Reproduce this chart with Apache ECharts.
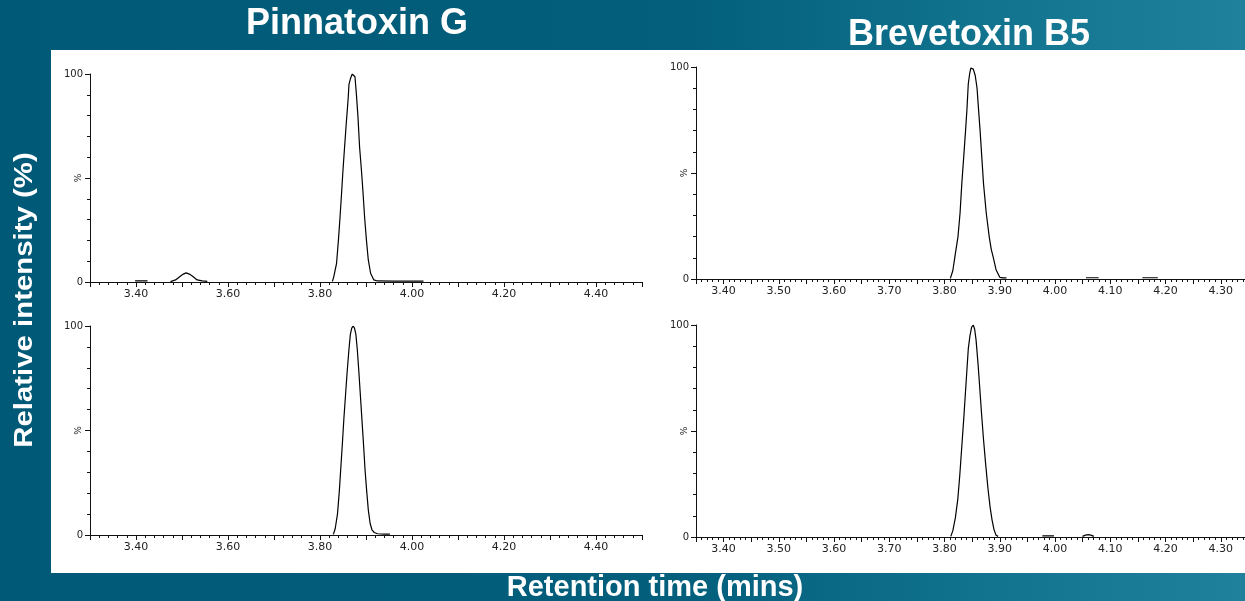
<!DOCTYPE html>
<html>
<head>
<meta charset="utf-8">
<script src="https://cdn.jsdelivr.net/npm/echarts@6/dist/echarts.min.js"></script>
<style>
  html, body { margin: 0; padding: 0; overflow: hidden; }
  #chart { width: 1245px; height: 601px; }
</style>
</head>
<body>
<div id="chart"></div>
<script>
// Extracted ion chromatograms: retention time (min) vs relative intensity (%).
// A null intensity breaks the trace between separate segments.

// Pinnatoxin G, upper trace
const pinTopTime = [3.398, 3.425, 3.45,
  3.475, 3.486, 3.497, 3.503, 3.509, 3.516, 3.523, 3.533, 3.544, 3.555, 3.60,
  3.827, 3.830, 3.836, 3.840, 3.8435, 3.847, 3.850, 3.8535, 3.857, 3.861, 3.863, 3.8665, 3.870,
  3.873, 3.876, 3.879, 3.8825, 3.886, 3.890, 3.8935, 3.897, 3.901, 3.905, 3.910, 3.917, 3.925,
  3.960, 4.000, 4.025];
const pinTopIntensity = [0.5, 0.5, null,
  0.2, 1.0, 2.9, 3.8, 4.4, 3.8, 2.8, 1.0, 0.5, 0.3, null,
  0.3, 2.6, 9, 20, 31, 43, 54, 65, 76, 87.5, 95, 98, 100,
  99.5, 98.7, 90.7, 79.5, 65, 54, 43, 31, 20, 10.6, 4.2, 1.0, 0.5,
  0.4, 0.4, 0.4];

// Pinnatoxin G, lower trace
const pinBottomTime = [3.829, 3.833, 3.838, 3.842, 3.8455, 3.849, 3.852, 3.8555, 3.859, 3.863, 3.866, 3.869, 3.872,
  3.875, 3.878, 3.881, 3.8845, 3.888, 3.8915, 3.895, 3.898, 3.9015, 3.905, 3.909, 3.913, 3.918, 3.925, 3.940, 3.952];
const pinBottomIntensity = [0.3, 3, 10, 21, 33, 45, 56, 67, 78, 89, 96, 99, 100,
  99, 96, 89, 78, 66, 54, 42, 31, 21, 12, 5.5, 2.5, 1.2, 0.6, 0.4, 0.4];

// Brevetoxin B5, upper trace
const brevTopTime = [3.8105, 3.815, 3.8188, 3.8243, 3.828, 3.8312, 3.8345, 3.838, 3.8405, 3.8429, 3.8455, 3.8475, 3.8498,
  3.852, 3.8555, 3.8588, 3.8615, 3.8643, 3.8675, 3.8705, 3.8755, 3.8808, 3.8845, 3.8877, 3.8932, 3.900, 3.906, 3.912, 3.98,
  4.056, 4.079, 4.12,
  4.158, 4.186];
const brevTopIntensity = [0.3, 4, 10.7, 20, 31, 45, 57, 70, 80, 92, 97, 99.5, 100,
  99, 96, 90, 80, 70, 57, 45, 31, 20, 14, 10.7, 4.4, 0.8, 0.5, 0.5, null,
  0.6, 0.6, null,
  0.6, 0.6];

// Brevetoxin B5, lower trace
const brevBottomTime = [3.8113, 3.815, 3.8195, 3.824, 3.8275, 3.831, 3.8345, 3.8375, 3.8405, 3.843, 3.846, 3.849, 3.852,
  3.8545, 3.857, 3.8605, 3.8635, 3.867, 3.8705, 3.8745, 3.8785, 3.8825, 3.886, 3.8895, 3.8932, 3.897, 3.94,
  3.977, 3.998, 4.02,
  4.0497, 4.055, 4.060, 4.065, 4.0703];
const brevBottomIntensity = [0.3, 3, 9, 18, 29, 42, 55, 67, 79, 89, 95, 99, 100,
  98, 93, 82, 71, 58, 46, 34, 23, 14, 8, 3.5, 0.8, 0.3, null,
  0.5, 0.5, null,
  0.3, 0.9, 1.1, 0.9, 0.3];

// Axis ranges and label text
const pinRange = [3.30, 4.50];
const brevRange = [3.35, 4.40];
const yTickLabels = { 0: '0', 100: '100' };
const panelTitles = ['Pinnatoxin G', 'Brevetoxin B5'];
const xTitle = 'Retention time (mins)';
const yTitle = 'Relative intensity (%)';

function pairs(times, values) {
  return times.map((t, i) => [t, values[i] === null ? '-' : values[i]]);
}

const tickFont = 'DejaVu Sans';
const axisColor = '#111';

function xAxisFor(gridIndex, range, interval, labelStep) {
  return {
    type: 'value', gridIndex, min: range[0], max: range[1], interval,
    axisLine: { show: true, onZero: false, lineStyle: { color: axisColor, width: 1 } },
    axisTick: { show: true, inside: false, length: 5, lineStyle: { color: axisColor } },
    minorTick: { show: true, splitNumber: 5, length: 3, lineStyle: { color: axisColor } },
    splitLine: { show: false }, minorSplitLine: { show: false },
    axisLabel: {
      margin: 7, color: '#222', fontFamily: tickFont, fontSize: 11,
      showMinLabel: true, showMaxLabel: true, hideOverlap: false,
      formatter: v => (Math.round(v * 100) % labelStep === 0 ? v.toFixed(2) : '')
    }
  };
}

function yAxisFor(gridIndex) {
  return {
    type: 'value', gridIndex, min: 0, max: 100, interval: 50,
    name: '%', nameLocation: 'middle', nameRotate: 90, nameGap: 7, nameMoveOverlap: false,
    nameTextStyle: { color: '#222', fontFamily: tickFont, fontSize: 9 },
    axisLine: { show: true, lineStyle: { color: axisColor, width: 1 } },
    axisTick: { show: true, inside: false, length: 5, lineStyle: { color: axisColor } },
    minorTick: { show: true, splitNumber: 5, length: 3, lineStyle: { color: axisColor } },
    splitLine: { show: false }, minorSplitLine: { show: false },
    axisLabel: {
      margin: 7, color: '#222', fontFamily: tickFont, fontSize: 10,
      formatter: v => (yTickLabels[v] !== undefined ? yTickLabels[v] : '')
    }
  };
}

function trace(idx, data) {
  return {
    type: 'line', xAxisIndex: idx, yAxisIndex: idx, data,
    symbol: 'none', connectNulls: false, silent: true,
    lineStyle: { color: '#000', width: 1.2 }
  };
}

function gridAt(left, top, width, height) {
  return { left, top, width, height, containLabel: false, outerBoundsMode: 'none' };
}

const chart = echarts.init(document.getElementById('chart'), null, { renderer: 'canvas' });

chart.setOption({
  animation: false,
  backgroundColor: 'transparent',
  graphic: [
    {
      type: 'rect', z: -20, silent: true,
      shape: { x: 0, y: 0, width: 1245, height: 601 },
      style: {
        fill: new echarts.graphic.LinearGradient(0, 0, 1, 0, [
          { offset: 0, color: '#005977' },
          { offset: 0.55, color: '#035f7c' },
          { offset: 0.8, color: '#12748f' },
          { offset: 1, color: '#1f819c' }
        ])
      }
    },
    {
      type: 'rect', z: -10, silent: true,
      shape: { x: 51, y: 50, width: 1194, height: 523 },
      style: { fill: '#ffffff' }
    },
    {
      type: 'text', x: 357, y: 24, z: 10,
      style: { text: panelTitles[0], font: 'bold 36px "Liberation Sans", Arial, sans-serif',
        fill: '#ffffff', textAlign: 'center', textVerticalAlign: 'middle' }
    },
    {
      type: 'text', x: 969, y: 35, z: 10,
      style: { text: panelTitles[1], font: 'bold 36px "Liberation Sans", Arial, sans-serif',
        fill: '#ffffff', textAlign: 'center', textVerticalAlign: 'middle' }
    },
    {
      type: 'text', x: 655, y: 588, z: 10,
      style: { text: xTitle, font: 'bold 29px "Liberation Sans", Arial, sans-serif',
        fill: '#ffffff', textAlign: 'center', textVerticalAlign: 'middle' }
    },
    {
      type: 'text', x: 25, y: 300, z: 10, rotation: Math.PI / 2, scaleX: 1.13,
      style: { text: yTitle, font: 'bold 26px "Liberation Sans", Arial, sans-serif',
        fill: '#ffffff', textAlign: 'center', textVerticalAlign: 'middle' }
    }
  ],
  grid: [
    gridAt(90, 74, 552, 208),
    gridAt(696, 67, 580, 212),
    gridAt(90, 326, 552, 209),
    gridAt(696, 325, 580, 212)
  ],
  xAxis: [
    xAxisFor(0, pinRange, 0.1, 20),
    xAxisFor(1, brevRange, 0.05, 10),
    xAxisFor(2, pinRange, 0.1, 20),
    xAxisFor(3, brevRange, 0.05, 10)
  ],
  yAxis: [yAxisFor(0), yAxisFor(1), yAxisFor(2), yAxisFor(3)],
  series: [
    trace(0, pairs(pinTopTime, pinTopIntensity)),
    trace(1, pairs(brevTopTime, brevTopIntensity)),
    trace(2, pairs(pinBottomTime, pinBottomIntensity)),
    trace(3, pairs(brevBottomTime, brevBottomIntensity))
  ]
});
</script>
</body>
</html>
